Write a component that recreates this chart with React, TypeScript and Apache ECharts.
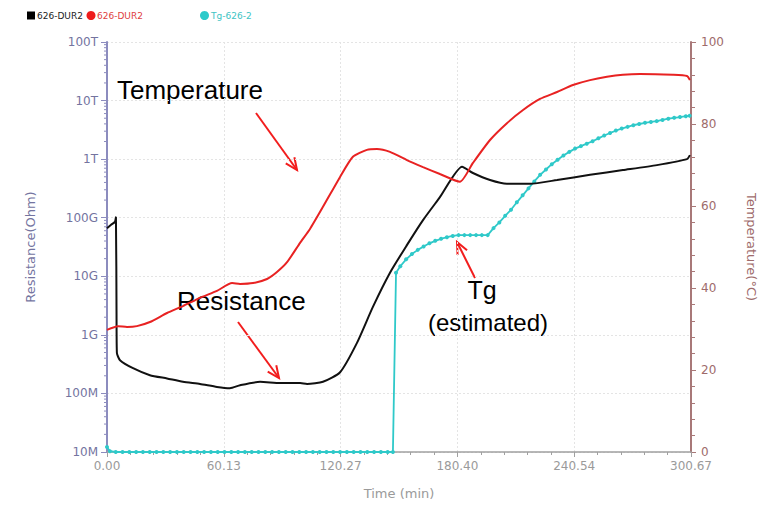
import React, { useEffect, useRef } from "react";
import * as echarts from "echarts";

// Resistance (black, left log axis)
const resTime = [0, 2.1, 4.1, 4.6, 4.9, 5.1, 6.7, 13.4, 22.1, 30.9, 39.1, 47.9, 56.6, 63.3, 68.5, 78.8, 89.1, 99.4, 103, 111.2, 120, 128.7, 136.9, 145.7, 154.4, 162.7, 171.4, 182.8, 188.4, 197.2, 205.9, 217.8, 231.7, 248.7, 265.6, 283.1, 298.6, 300.1];
const resOhm = [6.6e10, 7.6e10, 8.5e10, 1.02e11, 2.5e9, 4.9e8, 3.7e8, 2.7e8, 2.05e8, 1.8e8, 1.58e8, 1.45e8, 1.29e8, 1.23e8, 1.38e8, 1.58e8, 1.5e8, 1.5e8, 1.45e8, 1.58e8, 2.3e8, 7.3e8, 3.0e9, 1.15e10, 3.4e10, 9.1e10, 2.24e11, 7.4e11, 5.8e11, 4.4e11, 3.8e11, 3.8e11, 4.4e11, 5.4e11, 6.5e11, 7.9e11, 1.0e12, 1.17e12];

// Temperature (red, right axis)
const tempTime = [0, 5.7, 10.3, 15.4, 22.1, 30.9, 39.1, 47.9, 56.6, 64.4, 68.5, 75.2, 82.4, 87.5, 92.7, 99.4, 104.5, 111.2, 120, 126.6, 133.8, 139, 145.7, 154.4, 162.7, 171.4, 181.7, 188.4, 197.2, 205.9, 214.2, 222.9, 231.7, 239.9, 248.7, 257.4, 265.6, 274.4, 291.4, 298.6, 300.1];
const tempC = [29.8, 30.7, 30.5, 30.7, 31.7, 33.9, 35.6, 37.6, 39.3, 41.2, 41.0, 41.2, 42.2, 43.9, 46.3, 51.0, 54.4, 59.8, 67.1, 72.0, 73.7, 73.9, 73.2, 71.2, 69.5, 67.8, 65.9, 70.5, 76.1, 80.2, 83.4, 86.1, 87.8, 89.5, 90.7, 91.5, 92.0, 92.2, 92.0, 91.7, 90.7];

// Tg (cyan, right axis)
const tgTime = [0, 1.5, 4.5, 8, 11.5, 15, 18.5, 22, 25.5, 29, 32.5, 36, 39.5, 43, 46.5, 50, 53.5, 57, 60.5, 64, 67.5, 71, 74.5, 78, 81.5, 85, 88.5, 92, 95.5, 99, 102.5, 106, 109.5, 113, 116.5, 120, 123.5, 127, 130.5, 134, 137.5, 141, 144.5, 147.2,
  148.8, 151, 154, 157, 160, 163, 166, 169, 172, 175, 178, 181, 184, 187, 190, 193, 196, 199, 202, 205, 208, 211, 214, 217, 220, 223, 226, 229, 232, 235, 238, 241, 244, 247, 250, 253, 256, 259, 262, 265, 268, 271, 274, 277, 280, 283, 286, 289, 292, 295, 298, 300];
const tgC = [1.2, 0.2, 0, 0, 0, 0, 0, 0, 0, 0, 0, 0, 0, 0, 0, 0, 0, 0, 0, 0, 0, 0, 0, 0, 0, 0, 0, 0, 0, 0, 0, 0, 0, 0, 0, 0, 0, 0, 0, 0, 0, 0, 0, 0,
  43.7, 45.3, 47.0, 48.3, 49.3, 50.1, 50.9, 51.5, 52.0, 52.4, 52.7, 52.9, 52.9, 52.9, 52.9, 52.9, 52.9, 54.6, 56.0, 57.6, 59.1, 60.9, 62.6, 64.3, 66.0, 67.6, 68.9, 70.2, 71.3, 72.3, 73.2, 74.0, 74.6, 75.2, 75.8, 76.5, 77.2, 77.8, 78.4, 78.9, 79.3, 79.7, 80.0, 80.3, 80.5, 80.7, 81.0, 81.3, 81.5, 81.7, 81.9, 82.0];

// Axis tick labels
const resExponents = [7, 8, 9, 10, 11, 12, 13, 14];
const resLabels = ["10M", "100M", "1G", "10G", "100G", "1T", "10T", "100T"];
const timeMax = 300.67;
const tempTicks = [0, 20, 40, 60, 80, 100];

const zip = (a: number[], b: number[]) => a.map((v, i) => [v, b[i]]);

function arrow(x1: number, y1: number, x2: number, y2: number) {
  const a = Math.atan2(y2 - y1, x2 - x1);
  const len = 13;
  const s = 0.42;
  const stroke = "#f21d1d";
  return {
    type: "group",
    children: [
      { type: "line", shape: { x1, y1, x2, y2 }, style: { stroke, lineWidth: 2 } },
      {
        type: "polyline",
        shape: {
          points: [
            [x2 - len * Math.cos(a - s), y2 - len * Math.sin(a - s)],
            [x2, y2],
            [x2 - len * Math.cos(a + s), y2 - len * Math.sin(a + s)],
          ],
        },
        style: { stroke, lineWidth: 2, fill: "none" },
      },
    ],
  };
}

function label(text: string, x: number, y: number, size: number, align = "left") {
  return {
    type: "text",
    x,
    y,
    style: {
      text,
      fill: "#000",
      fontSize: size,
      fontFamily: "Liberation Sans, Arial, sans-serif",
      textAlign: align,
      textVerticalAlign: "middle",
    },
  };
}

export default function App() {
  const ref = useRef<HTMLDivElement>(null);
  useEffect(() => {
    if (!ref.current) return;
    const chart = echarts.init(ref.current, null, { renderer: "svg" });
    const minorVals: number[][] = [];
    for (let e = 7; e < 14; e++) for (let m = 2; m <= 9; m++) minorVals.push([0, m * Math.pow(10, e)]);
    const font = "DejaVu Sans, Verdana, sans-serif";
    const leftCol = "#74749f";
    const rightCol = "#9e6b6b";
    const grey = "#9a9a9a";
    const legendFont = { fontSize: 9, fontFamily: font };
    chart.setOption({
      animation: false,
      grid: { left: 107, right: 82, top: 42, bottom: 54 },
      xAxis: {
        type: "value",
        min: 0,
        max: timeMax,
        interval: timeMax / 5,
        name: "Time (min)",
        nameLocation: "middle",
        nameGap: 35,
        nameTextStyle: { color: grey, fontSize: 13, fontFamily: font },
        axisLine: { lineStyle: { color: "#a0a0a0", width: 1.5 } },
        axisTick: { length: 5, lineStyle: { color: "#a0a0a0" } },
        minorTick: { show: true, splitNumber: 5, length: 3, lineStyle: { color: "#a0a0a0" } },
        axisLabel: {
          color: grey,
          fontSize: 12,
          fontFamily: font,
          margin: 8,
          formatter: (v: number) => v.toFixed(2),
        },
        splitLine: { show: true, lineStyle: { color: "#e4e4e4", type: [2, 2] } },
      },
      yAxis: [
        {
          type: "log",
          logBase: 10,
          min: Math.pow(10, resExponents[0]),
          max: Math.pow(10, resExponents[resExponents.length - 1]),
          name: "Resistance(Ohm)",
          nameLocation: "middle",
          nameGap: 70,
          nameTextStyle: { color: leftCol, fontSize: 13, fontFamily: font },
          axisLine: { show: true, lineStyle: { color: "#8c8cbe", width: 2 } },
          axisTick: { show: true, length: 6, lineStyle: { color: "#8c8cbe" } },
          axisLabel: {
            color: leftCol,
            fontSize: 12,
            fontFamily: font,
            margin: 9,
            formatter: (v: number) => {
              const i = resExponents.indexOf(Math.round(Math.log10(v)));
              return i >= 0 ? resLabels[i] : "";
            },
          },
          splitLine: { show: true, lineStyle: { color: "#e4e4e4", type: [2, 2] } },
        },
        {
          type: "value",
          min: tempTicks[0],
          max: tempTicks[tempTicks.length - 1],
          interval: 20,
          position: "right",
          name: "Temperature(°C)",
          nameLocation: "middle",
          nameRotate: -90,
          nameGap: 54,
          nameTextStyle: { color: rightCol, fontSize: 13, fontFamily: font },
          axisLine: { show: true, lineStyle: { color: "#a87878", width: 2 } },
          axisTick: { show: true, length: 5, lineStyle: { color: "#a87878" } },
          minorTick: { show: true, splitNumber: 5, length: 4, lineStyle: { color: "#a87878" } },
          axisLabel: { color: rightCol, fontSize: 12, fontFamily: font, margin: 10 },
          splitLine: { show: false },
        },
      ],
      series: [
        {
          type: "custom",
          yAxisIndex: 0,
          silent: true,
          clip: false,
          data: minorVals,
          renderItem: (_p: any, api: any) => {
            const p = api.coord([api.value(0), api.value(1)]);
            return {
              type: "line",
              shape: { x1: p[0] - 3, y1: p[1], x2: p[0], y2: p[1] },
              style: { stroke: "#8c8cbe", lineWidth: 1 },
            };
          },
        },
        {
          name: "626-DUR2",
          type: "line",
          yAxisIndex: 0,
          data: zip(resTime, resOhm),
          showSymbol: false,
          smooth: 0.2,
          lineStyle: { color: "#111", width: 2 },
          itemStyle: { color: "#111" },
          z: 4,
        },
        {
          name: "626-DUR2 T",
          type: "line",
          yAxisIndex: 1,
          data: zip(tempTime, tempC),
          showSymbol: false,
          smooth: 0.2,
          lineStyle: { color: "#e82222", width: 2 },
          itemStyle: { color: "#e82222" },
          z: 4,
        },
        {
          name: "Tg-626-2",
          type: "line",
          yAxisIndex: 1,
          data: zip(tgTime, tgC),
          symbol: "circle",
          symbolSize: 4,
          lineStyle: { color: "#2fc9c9", width: 1.8 },
          itemStyle: { color: "#2fc9c9" },
          z: 3,
        },
      ],
      graphic: [
        { type: "rect", shape: { x: 27, y: 11.5, width: 8, height: 8 }, style: { fill: "#000" } },
        { type: "text", x: 37, y: 15.5, style: { text: "626-DUR2", fill: "#222", textVerticalAlign: "middle", ...legendFont } },
        { type: "circle", shape: { cx: 91, cy: 15.5, r: 4.5 }, style: { fill: "#ee1c1c" } },
        { type: "text", x: 97, y: 15.5, style: { text: "626-DUR2", fill: "#e04040", textVerticalAlign: "middle", ...legendFont } },
        { type: "circle", shape: { cx: 204.5, cy: 15.5, r: 4.5 }, style: { fill: "#2ccaca" } },
        { type: "text", x: 211, y: 15.5, style: { text: "Tg-626-2", fill: "#40c4c4", textVerticalAlign: "middle", ...legendFont } },
        label("Temperature", 117, 90, 26),
        arrow(256, 113, 297, 170),
        label("Resistance", 177, 301, 26),
        arrow(238, 322, 279, 378),
        label("Tg", 482, 290, 25, "center"),
        label("(estimated)", 488, 322, 24, "center"),
        arrow(475, 278, 457, 242),
      ],
    });
    return () => chart.dispose();
  }, []);
  return <div ref={ref} style={{ position: "absolute", left: 0, top: 0, width: 773, height: 506 }} />;
}
